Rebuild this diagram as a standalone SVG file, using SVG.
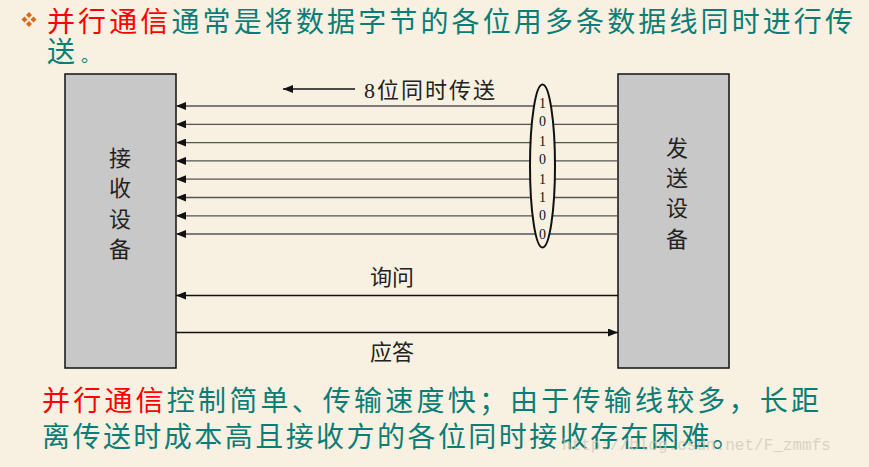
<svg xmlns="http://www.w3.org/2000/svg" width="869" height="467" viewBox="0 0 869 467">
<defs>
<style>
.title{font-family:"Noto Sans CJK SC",sans-serif;font-size:28px;fill:#0b7d77;}
.red{fill:#ff0000;}
.lbl{font-family:"Liberation Serif","Noto Sans CJK SC",serif;font-size:22px;fill:#222;}
.box{fill:#c8c8c8;stroke:#111;stroke-width:1.5;}
.wire{stroke:#555;stroke-width:1.3;fill:none;marker-end:url(#ah);}
.ctl{stroke:#111;stroke-width:1.5;fill:none;marker-end:url(#ah);}
.bit{font-family:"Liberation Serif",serif;font-size:14px;fill:#111;text-anchor:middle;}
</style>
<marker id="ah" viewBox="0 0 10 8" refX="10" refY="4" markerWidth="10" markerHeight="8" markerUnits="userSpaceOnUse" orient="auto">
<path d="M0,0 L10,4 L0,8 Z" fill="#111"/>
</marker>
</defs>
<rect width="869" height="467" fill="#f8f1e1"/>
<g id="header">
<g fill="#d8691c">
<path d="M29,12 L32,15 L29,18 L26,15 Z"/>
<path d="M29,21 L32,24 L29,27 L26,24 Z"/>
<path d="M24.5,16.5 L27.5,19.5 L24.5,22.5 L21.5,19.5 Z"/>
<path d="M33.5,16.5 L36.5,19.5 L33.5,22.5 L30.5,19.5 Z"/>
</g>
<text class="title" x="47" y="32" textLength="806" lengthAdjust="spacing"><tspan class="red">并行通信</tspan>通常是将数据字节的各位用多条数据线同时进行传</text>
<text class="title" x="47" y="62">送<tspan font-size="18" dx="6">。</tspan></text>
</g>
<g id="receiver">
<rect class="box" x="65" y="74" width="111" height="294"/>
<text class="lbl" x="120" y="166" text-anchor="middle">接</text>
<text class="lbl" x="120" y="196" text-anchor="middle">收</text>
<text class="lbl" x="120" y="227" text-anchor="middle">设</text>
<text class="lbl" x="120" y="257" text-anchor="middle">备</text>
</g>
<g id="sender">
<rect class="box" x="618" y="74" width="111" height="294"/>
<text class="lbl" x="677" y="156" text-anchor="middle">发</text>
<text class="lbl" x="677" y="186" text-anchor="middle">送</text>
<text class="lbl" x="677" y="216" text-anchor="middle">设</text>
<text class="lbl" x="677" y="247" text-anchor="middle">备</text>
</g>
<g id="connectors">
<path class="wire" d="M618,106 H176"/>
<path class="wire" d="M618,124.3 H176"/>
<path class="wire" d="M618,142.6 H176"/>
<path class="wire" d="M618,160.9 H176"/>
<path class="wire" d="M618,179.2 H176" stroke="#111"/>
<path class="wire" d="M618,197.5 H176"/>
<path class="wire" d="M618,215.8 H176" stroke="#111"/>
<path class="wire" d="M618,234 H176"/>
<path class="ctl" d="M355,89 H283"/>
<path class="ctl" d="M618,295.5 H176"/>
<path class="ctl" d="M176,332.5 H618"/>
</g>
<g id="label-parallel">
<text class="lbl" x="364" y="98" font-size="23" letter-spacing="2">8位同时传送</text>
</g>
<g id="bits">
<ellipse cx="542.5" cy="166" rx="12.5" ry="81.5" fill="#f8f1e1" stroke="#111" stroke-width="2"/>
<text class="bit" x="542.5" y="108">1</text>
<text class="bit" x="542.5" y="126">0</text>
<text class="bit" x="542.5" y="146">1</text>
<text class="bit" x="542.5" y="164">0</text>
<text class="bit" x="542.5" y="184">1</text>
<text class="bit" x="542.5" y="202">1</text>
<text class="bit" x="542.5" y="220">0</text>
<text class="bit" x="542.5" y="239">0</text>
</g>
<g id="label-query">
<text class="lbl" x="392" y="285" text-anchor="middle">询问</text>
</g>
<g id="label-answer">
<text class="lbl" x="392" y="360" text-anchor="middle">应答</text>
</g>
<g id="footer">
<text class="title" x="42" y="411" textLength="777" lengthAdjust="spacing"><tspan class="red">并行通信</tspan>控制简单、传输速度快；由于传输线较多，长距</text>
<text class="title" x="42" y="447" textLength="698" lengthAdjust="spacing">离传送时成本高且接收方的各位同时接收存在困难。</text>
<text x="562" y="450" font-family="Liberation Mono,monospace" font-size="16" fill="#cdc6b8" opacity="0.7">http://blog.csdn.net/F_zmmfs</text>
</g>
</svg>
